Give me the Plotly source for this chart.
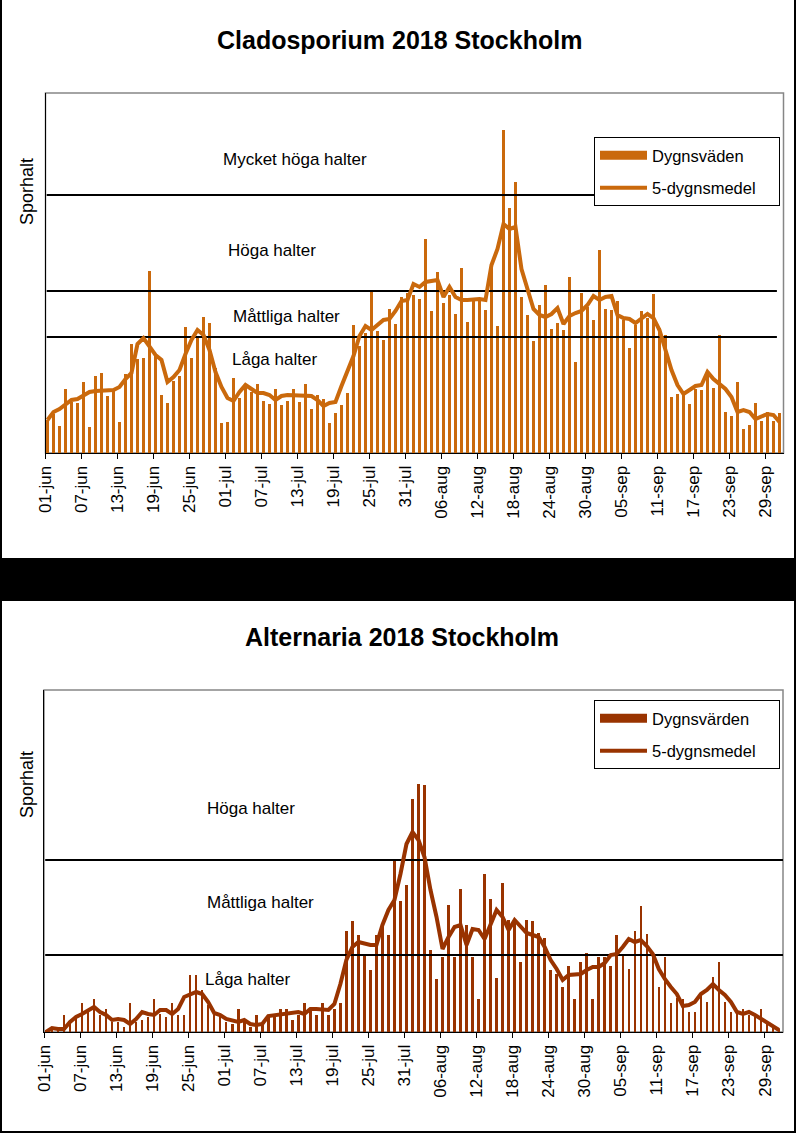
import plotly.graph_objects as go

# ---------------- data ----------------
tick_days = [0, 6, 12, 18, 24, 30, 36, 42, 48, 54, 60, 66, 72, 78, 84, 90, 96, 102, 108, 114, 120]
tick_labels = ["01-jun", "07-jun", "13-jun", "19-jun", "25-jun", "01-jul", "07-jul", "13-jul",
               "19-jul", "25-jul", "31-jul", "06-aug", "12-aug", "18-aug", "24-aug", "30-aug",
               "05-sep", "11-sep", "17-sep", "23-sep", "29-sep"]

clad_daily = [33, 39, 27, 64, 51, 50, 71, 26, 77, 80, 57, 62, 31, 79, 109, 94, 95, 182, 98, 58,
              50, 72, 77, 126, 95, 115, 136, 130, 85, 30, 31, 75, 55, 68, 61, 69, 52, 49, 64, 48,
              52, 64, 51, 69, 44, 58, 54, 30, 40, 48, 60, 128, 107, 120, 162, 122, 113, 144, 129, 156,
              160, 158, 154, 214, 142, 181, 150, 158, 139, 185, 131, 153, 153, 143, 188, 127, 323, 245, 271, 156,
              138, 112, 148, 168, 124, 130, 123, 176, 91, 160, 146, 133, 203, 144, 143, 152, 133, 105, 128, 142,
              135, 159, 125, 118, 56, 59, 58, 49, 64, 63, 80, 65, 118, 41, 37, 71, 24, 28, 50, 32,
              41, 32, 40]
clad_mean = [33, 41, 44, 48, 53, 54, 57, 61, 62, 62, 63, 63, 66, 74, 80, 109, 115, 106, 98, 93,
             71, 76, 83, 99, 113, 123, 118, 103, 81, 66, 55, 52, 61, 68, 64, 60, 60, 58, 53, 57,
             58, 58, 57, 58, 57, 53, 47, 50, 51, 67, 83, 97, 117, 127, 123, 128, 133, 134, 142, 152,
             153, 169, 166, 171, 172, 173, 156, 166, 156, 153, 153, 154, 154, 153, 188, 204, 229, 224, 226, 184,
             164, 144, 138, 136, 139, 145, 129, 137, 140, 142, 148, 157, 153, 156, 157, 138, 135, 134, 130, 135,
             139, 135, 123, 103, 83, 68, 59, 63, 67, 68, 81, 74, 69, 64, 56, 41, 43, 41, 34, 36,
             39, 38, 31]
clad_levels = [116, 162, 258]
clad_level_names = ["Låga halter", "Måttliga halter", "Höga halter", "Mycket höga halter"]

alt_daily = [2, 5, 5, 17, 8, 15, 29, 22, 33, 17, 23, 10, 10, 5, 29, 10, 12, 15, 33, 18,
             15, 29, 17, 17, 57, 57, 42, 27, 17, 17, 10, 8, 23, 10, 5, 17, 8, 15, 15, 23,
             23, 12, 17, 29, 23, 17, 29, 17, 23, 29, 101, 111, 97, 76, 62, 97, 107, 97, 173, 131,
             147, 233, 248, 247, 82, 53, 75, 127, 75, 143, 107, 75, 33, 158, 133, 54, 149, 112, 112, 70,
             112, 111, 99, 94, 62, 58, 45, 66, 33, 70, 79, 33, 75, 75, 66, 97, 78, 63, 101, 126,
             98, 75, 45, 75, 29, 34, 33, 20, 20, 38, 30, 55, 70, 30, 20, 20, 23, 17, 17, 23,
             8, 5, 3]
alt_mean = [0, 4, 3, 3, 10, 15, 18, 22, 25, 20, 17, 12, 13, 12, 8, 13, 20, 18, 17, 22,
            22, 18, 23, 35, 37, 40, 38, 30, 19, 17, 13, 12, 10, 12, 8, 7, 8, 16, 17, 17,
            18, 20, 20, 18, 23, 23, 22, 22, 28, 48, 72, 85, 90, 88, 87, 87, 107, 122, 132, 158,
            188, 200, 192, 175, 142, 115, 83, 95, 105, 107, 87, 103, 102, 93, 108, 122, 115, 102, 112, 106,
            99, 97, 95, 85, 72, 63, 52, 57, 58, 58, 62, 65, 65, 69, 77, 78, 85, 93, 90, 92,
            86, 78, 63, 53, 45, 38, 26, 27, 30, 38, 42, 48, 42, 37, 30, 20, 18, 20, 17, 13,
            9, 6, 2]
alt_levels = [77, 172]
alt_level_names = ["Låga halter", "Måttliga halter", "Höga halter"]

# ---------------- style ----------------
W, H = 796, 1133
FONT = "Arial, 'Liberation Sans', sans-serif"
C_CLAD = "#CA690C"
C_ALT = "#993300"
BAR_OFF = 0.33
BAR_W = 0.42
PAD = "&nbsp;" * 4


def px(x):
    return x / W


def py(y):
    return 1 - y / H


days = list(range(len(clad_daily)))
xpos = [d + BAR_OFF for d in days]

fig = go.Figure()

# ---- Cladosporium ----
fig.add_trace(go.Bar(x=xpos, y=clad_daily, width=BAR_W, marker=dict(color=C_CLAD, line=dict(width=0)),
                     xaxis="x", yaxis="y", showlegend=False, name="Dygnsväden", hoverinfo="skip"))
for lv in clad_levels:
    fig.add_trace(go.Scatter(x=[0.2, 121.9], y=[lv, lv], mode="lines", line=dict(color="black", width=2),
                             xaxis="x", yaxis="y", showlegend=False, hoverinfo="skip"))
fig.add_trace(go.Scatter(x=[None], y=[None], mode="lines", line=dict(color=C_CLAD, width=9),
                         name="Dygnsväden", legend="legend", legendgroup="a", xaxis="x", yaxis="y"))
fig.add_trace(go.Scatter(x=xpos, y=clad_mean, mode="lines", line=dict(color=C_CLAD, width=4),
                         name="5-dygnsmedel" + PAD, legend="legend", legendgroup="b",
                         xaxis="x", yaxis="y", hoverinfo="skip"))

# ---- Alternaria ----
fig.add_trace(go.Bar(x=xpos, y=alt_daily, width=BAR_W, marker=dict(color=C_ALT, line=dict(width=0)),
                     xaxis="x2", yaxis="y2", showlegend=False, name="Dygnsvärden", hoverinfo="skip"))
for lv in alt_levels:
    fig.add_trace(go.Scatter(x=[0.2, 123], y=[lv, lv], mode="lines", line=dict(color="black", width=2),
                             xaxis="x2", yaxis="y2", showlegend=False, hoverinfo="skip"))
fig.add_trace(go.Scatter(x=[None], y=[None], mode="lines", line=dict(color=C_ALT, width=9),
                         name="Dygnsvärden", legend="legend2", legendgroup="c", xaxis="x2", yaxis="y2"))
fig.add_trace(go.Scatter(x=xpos, y=alt_mean, mode="lines", line=dict(color=C_ALT, width=4),
                         name="5-dygnsmedel" + PAD, legend="legend2", legendgroup="d",
                         xaxis="x2", yaxis="y2", hoverinfo="skip"))

xax = dict(range=[0, 123], tickvals=tick_days, ticktext=tick_labels, tickangle=-90,
           ticks="outside", ticklen=5, tickcolor="black", showline=True, linecolor="black", linewidth=1,
           showgrid=False, zeroline=False, tickfont=dict(size=17, family=FONT, color="black"),
           fixedrange=True, automargin=False)
yax = dict(showticklabels=False, showgrid=False, zeroline=False, showline=True, linecolor="black",
           linewidth=1, ticks="", fixedrange=True, automargin=False)

legend_common = dict(xanchor="left", yanchor="top", bgcolor="white", bordercolor="black", borderwidth=1,
                     font=dict(size=16.5, family=FONT, color="black"), tracegroupgap=8, itemwidth=47)


def ann(text, x, y, size, xref="paper", yref="paper", angle=0):
    return dict(text=text, x=x, y=y, xref=xref, yref=yref, xanchor="center", yanchor="middle",
                textangle=angle, showarrow=False, font=dict(size=size, family=FONT, color="black"))


annotations = [
    ann("<b>Cladosporium 2018 Stockholm</b>", px(400), py(40), 25),
    ann("<b>Alternaria 2018 Stockholm</b>", px(402), py(637), 25),
    ann("Sporhalt", px(27), py(192), 18, angle=-90),
    ann("Sporhalt", px(27), py(785), 18, angle=-90),
]
clad_label_pos = [(38.2, 94), (40.2, 137), (37.8, 203), (41.5, 294)]
for name, (lx, ly) in zip(clad_level_names, clad_label_pos):
    annotations.append(ann(name, lx, ly, 17, xref="x", yref="y"))
alt_label_pos = [(33.8, 53), (36.0, 130), (34.5, 224)]
for name, (lx, ly) in zip(alt_level_names, alt_label_pos):
    annotations.append(ann(name, lx, ly, 17, xref="x2", yref="y2"))

shapes = [
    dict(type="rect", xref="paper", yref="paper", x0=px(2), x1=px(794), y0=py(558), y1=py(0),
         fillcolor="white", line=dict(width=0), layer="below"),
    dict(type="rect", xref="paper", yref="paper", x0=px(2), x1=px(794), y0=py(1131), y1=py(601),
         fillcolor="white", line=dict(width=0), layer="below"),
    dict(type="rect", xref="x domain", yref="y domain", x0=0, x1=1, y0=0, y1=1,
         line=dict(color="#868686", width=1.5), layer="below"),
    dict(type="rect", xref="x2 domain", yref="y2 domain", x0=0, x1=1, y0=0, y1=1,
         line=dict(color="#868686", width=1.5), layer="below"),
]

fig.update_layout(
    width=W, height=H, margin=dict(l=0, r=0, t=0, b=0, pad=0),
    paper_bgcolor="black", plot_bgcolor="white",
    bargap=0, showlegend=True, hovermode=False,
    xaxis=dict(domain=[px(45.5), px(783.5)], anchor="y", **xax),
    yaxis=dict(domain=[py(453), py(93)], range=[0, 360], anchor="x", **yax),
    xaxis2=dict(domain=[px(44), px(783)], anchor="y2", **xax),
    yaxis2=dict(domain=[py(1032), py(690)], range=[0, 342], anchor="x2", **yax),
    legend=dict(x=px(594), y=py(137), **legend_common),
    legend2=dict(x=px(594), y=py(700), **legend_common),
    annotations=annotations,
    shapes=shapes,
)

fig.write_html("out.html", config={"displayModeBar": False, "staticPlot": True},
               post_script="document.body.style.margin='0px';document.body.style.padding='0px';")
